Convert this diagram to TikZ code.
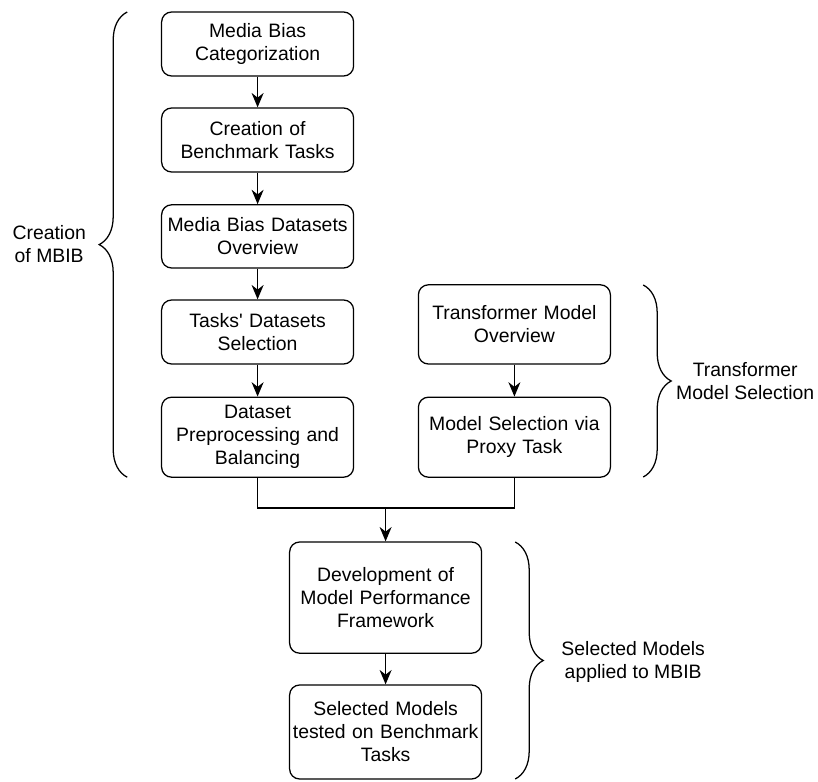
\documentclass[tikz,border=0pt]{standalone}
\usepackage{fontspec}
\setmainfont{Liberation Sans}
\usepackage{tikz}
\usetikzlibrary{arrows.meta,positioning,decorations.pathreplacing}
\tikzset{% 
  process box/.style={%
    draw,
    rounded corners=0.25cm,
    line width=0.9pt,
    minimum width=4.8cm,
    text width=4.8cm,
    inner xsep=0pt,
    align=center,
    font=\fontsize{13.8}{16.4}\selectfont
  }
}
\tikzset{% 
  flow arrow/.style={%
    line width=0.9pt,
    -{Stealth[length=0.36cm,width=0.3cm]}
  }
}
\tikzset{% 
  group brace/.style={%
    line width=0.9pt,
    decorate,
    decoration={brace,amplitude=0.7cm}
  }
}
\tikzset{% 
  group label/.style={%
    align=center,
    font=\fontsize{13.8}{16.4}\selectfont
  }
}

\begin{document}
\begin{tikzpicture}
  \useasboundingbox (0,0) rectangle (20.45,-19.525);
  % left column
  \node [process box,minimum height=1.6cm] (categ) at (6.44,-1.1) {Media Bias\\Categorization};
  \node [process box,minimum height=1.6cm] (bench) at (6.44,-3.5) {Creation of\\Benchmark Tasks};
  \node [process box,minimum height=1.58cm] (overv) at (6.44,-5.91) {Media Bias Datasets\\Overview};
  \node [process box,minimum height=1.6cm] (tasksel) at (6.44,-8.3) {Tasks\textquotesingle{} Datasets\\Selection};
  \node [process box,minimum height=2cm] (prep) at (6.44,-10.93) {Dataset\\Preprocessing and\\Balancing};
  % right column
  \node [process box,minimum height=1.98cm] (trans) at (12.86,-8.11) {Transformer Model\\Overview};
  \node [process box,minimum height=2cm] (proxy) at (12.86,-10.93) {Model Selection via\\Proxy Task};
  % bottom
  \node [process box,minimum height=2.78cm] (frame) at (9.64,-14.94) {Development of\\Model Performance\\Framework};
  \node [process box,minimum height=2.35cm] (tested) at (9.64,-18.3) {Selected Models\\tested on Benchmark\\Tasks};
  \coordinate (join) at (9.64,-12.7);
  \draw [flow arrow] (categ) -- (bench);
  \draw [flow arrow] (bench) -- (overv);
  \draw [flow arrow] (overv) -- (tasksel);
  \draw [flow arrow] (tasksel) -- (prep);
  \draw [flow arrow] (trans) -- (proxy);
  \draw [line width=0.9pt] (prep.south) |- (join) -| (proxy.south);
  \draw [flow arrow] (join) -- (frame);
  \draw [flow arrow] (frame) -- (tested);
  % braces
  \draw [group brace] (3.18,-11.93) -- (3.18,-0.3);
  \draw [group brace] (16.08,-7.125) -- (16.08,-11.925);
  \draw [group brace] (12.88,-13.55) -- (12.88,-19.475);
  \node [group label] (mbib) at (1.23,-6.1) {Creation\\of MBIB};
  \node [group label] (tsel) at (18.63,-9.52) {Transformer\\Model Selection};
  \node [group label] (appl) at (15.83,-16.55) {Selected Models\\applied to MBIB};
\end{tikzpicture}
\end{document}
